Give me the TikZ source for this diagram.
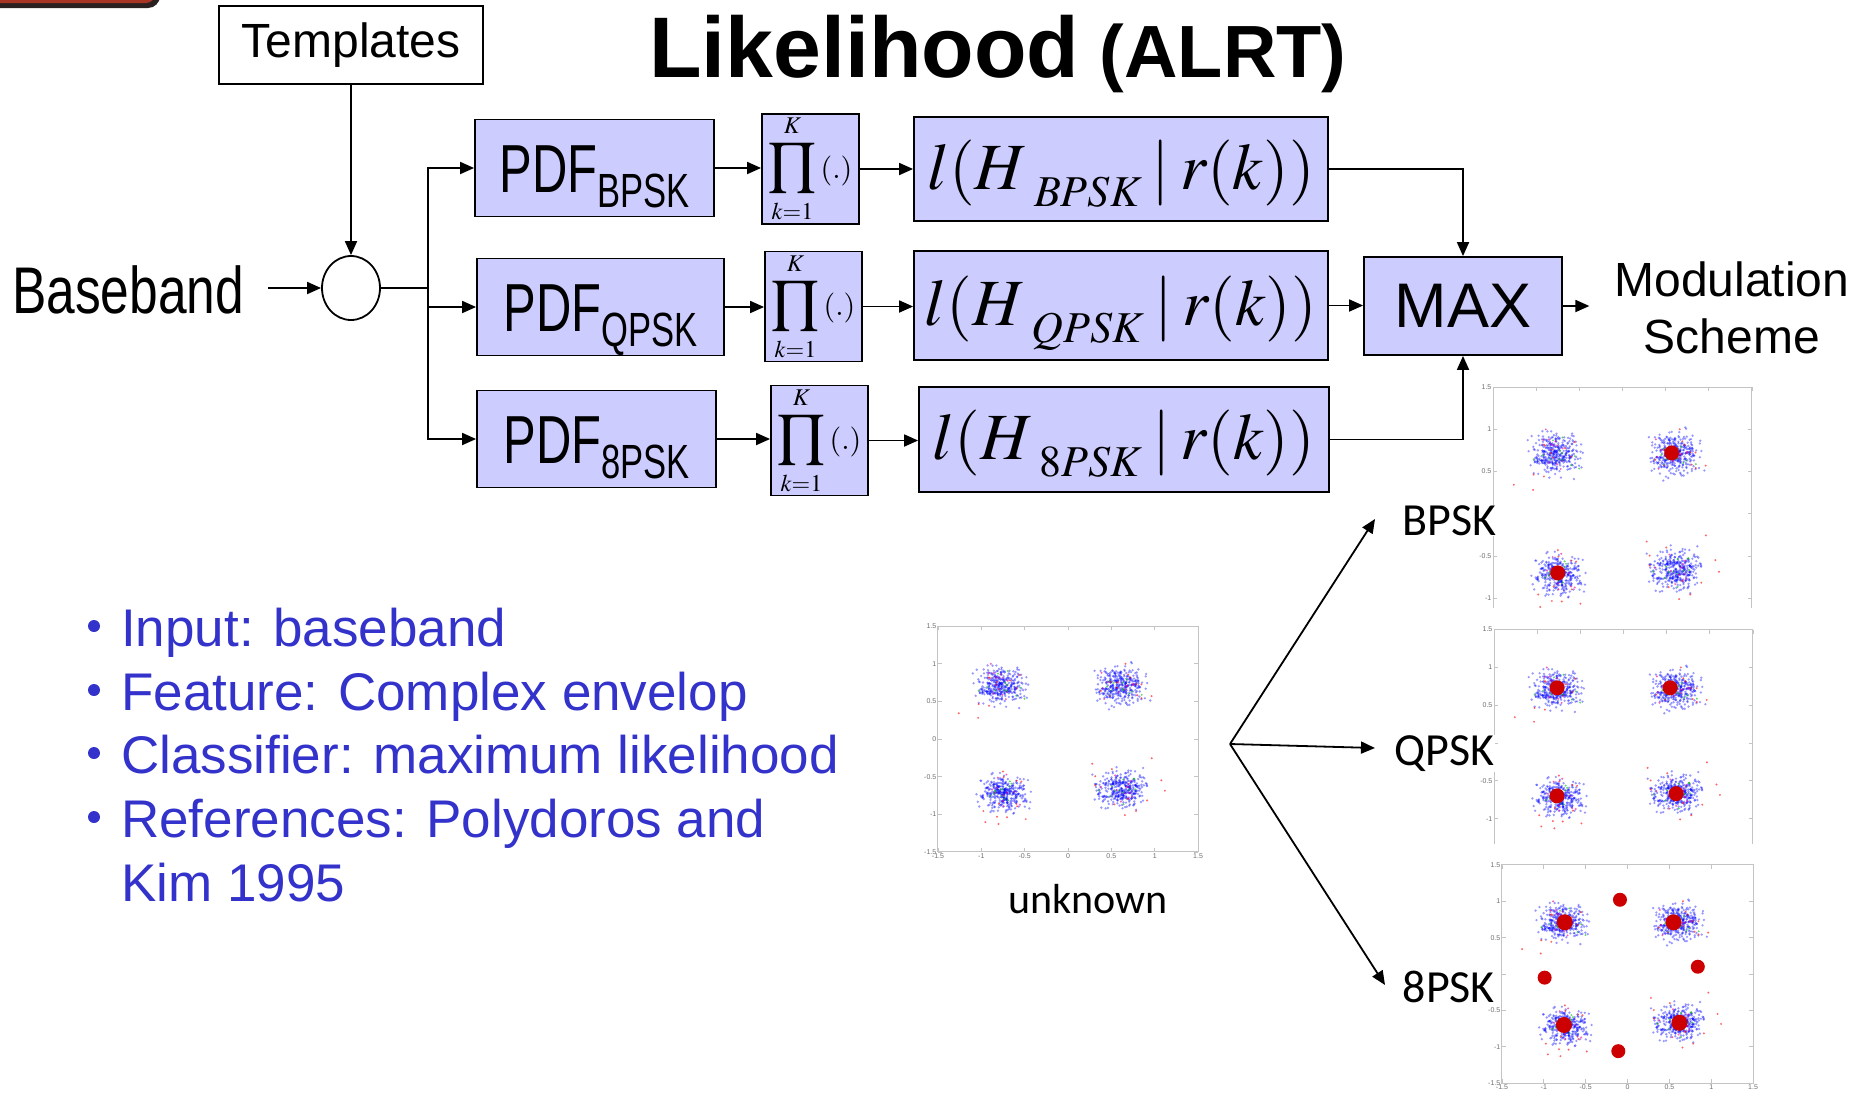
\documentclass[tikz,border=0pt]{standalone}
\usepackage{mathptmx}
\usepackage[no-math]{fontspec}
\setmainfont{Liberation Sans}
\newfontfamily\narrowfont[FakeStretch=0.72]{Liberation Sans}
\newfontfamily\bandfont[FakeStretch=0.78]{Liberation Sans}
\newfontfamily\labelfont{Carlito}
\usetikzlibrary{arrows.meta,shapes.geometric}

\definecolor{boxfill}{RGB}{204,204,255}
\definecolor{bullblue}{RGB}{51,51,204}
\definecolor{dotred}{RGB}{204,0,0}
\definecolor{axisgray}{RGB}{196,196,196}
\definecolor{tickgray}{RGB}{110,110,110}
\definecolor{tabred}{RGB}{168,52,36}
\definecolor{tabdark}{RGB}{42,32,32}

% likelihood expression l(H_x | r(k)) with a lowered, spaced subscript
\newcommand{\likexpr}[1]{$l(H\kern7pt\raisebox{-17pt}{\fontsize{44}{44}\selectfont$#1$}\kern10pt|\kern10pt r(k))$}
% product over the K received samples
\newcommand{\prodexpr}{$\displaystyle\prod\limits_{\raisebox{-3pt}{$\scriptscriptstyle k=1$}}^{\raisebox{2pt}{$\scriptscriptstyle K$}}\mbox{\fontsize{30}{30}\selectfont$(.)$}$}

% the same received samples, scattered round the four QPSK points
\newcommand{\clusterpts}{%
  \pgfmathsetseed{4242}%
  \foreach \cx/\cy in {-0.78/0.70,0.60/0.70,-0.75/-0.72,0.62/-0.66}{%
    \foreach \i in {1,...,340}{%
      \pgfmathsetmacro\ptx{\cx+0.13*(rand+rand+rand)}%
      \pgfmathsetmacro\pty{\cy+0.115*(rand+rand+rand)}%
      \fill[ptblue] (\ptx,\pty) circle[radius=1.3pt];%
    }%
    \foreach \i in {1,...,24}{%
      \pgfmathsetmacro\ptx{\cx+0.12*(rand+rand+rand)}%
      \pgfmathsetmacro\pty{\cy+0.11*(rand+rand+rand)}%
      \ifodd\i \fill[ptgreen] (\ptx,\pty) circle[radius=1.1pt];%
      \else \fill[ptmag] (\ptx,\pty) circle[radius=1.1pt];\fi
    }%
    \foreach \i in {1,...,12}{%
      \pgfmathsetmacro\ptx{\cx+0.24*(rand+rand+rand)}%
      \pgfmathsetmacro\pty{\cy+0.22*(rand+rand+rand)}%
      \fill[ptred] (\ptx,\pty) circle[radius=1.1pt];%
    }%
  }}

% #1 id, #2/#3 origin (px), #4/#5 px per unit, #6 lower cut (px),
% #7 extra marks, #8 index of a left label hidden under a caption
\newcommand{\constplot}[8]{%
  \begin{scope}
    \clip (#2-1.5*#4-30,#3-1.5*#5-10) rectangle (#2+1.5*#4+6,#6);
    \begin{scope}[shift={(#2,#3)},x=#4pt,y=#5pt]
      \clusterpts
      \draw[axisgray,line width=1pt] (-1.5,-1.5) rectangle (1.5,1.5);
      \foreach \v [count=\k] in {-1.5,-1,-0.5,0,0.5,1,1.5}{%
        \draw[axisgray,line width=0.8pt]
          (\v,-1.5) -- ++(0,4pt) (\v,1.5) -- ++(0,-4pt)
          (-1.5,\v) -- ++(4pt,0) (1.5,\v) -- ++(-4pt,0);
        \ifnum\k=#8\relax\else
          \node[ticklbl,anchor=east] (#1y\k) at (-1.5,\v) {\v};
        \fi
        \node[ticklbl,anchor=north] (#1x\k) at (\v,-1.5) {\v};
      }
      #7
    \end{scope}
  \end{scope}}

\begin{document}
\begin{tikzpicture}[x=1pt,y=-1pt,
  ln/.style={line width=1.8pt},
  arr/.style={line width=1.8pt,-{Triangle[length=14pt,width=12pt]}},
  blk/.style={draw,line width=1.8pt,fill=boxfill,inner sep=0pt},
  pdfblk/.style={blk,minimum height=97,text height=49,text depth=0pt,
    font=\narrowfont\fontsize{68}{70}\selectfont},
  prodblk/.style={blk,minimum width=97,font=\fontsize{40}{44}\selectfont},
  likblk/.style={blk,text height=40,text depth=0pt,font=\fontsize{66}{70}\selectfont},
  bul/.style={text=bullblue,font=\fontsize{53}{64}\selectfont,inner sep=0pt,anchor=base west},
  schlbl/.style={font=\labelfont\fontsize{46}{50}\selectfont,inner sep=0.5pt,fill=white,anchor=base west},
  ticklbl/.style={font=\fontsize{7}{8}\selectfont,text=tickgray,inner sep=1.5pt},
  ptblue/.style={fill=blue,fill opacity=0.4},
  ptgreen/.style={fill=green!75!black,fill opacity=0.6},
  ptmag/.style={fill=magenta,fill opacity=0.6},
  ptred/.style={fill=red,fill opacity=0.6},
  dot/.style={fill=dotred}]
\useasboundingbox (0,0) rectangle (1856,1093);

% corner of the slide tab
\fill[tabdark,rounded corners=12pt] (-30,-40) rectangle (160,8);
\fill[tabred,rounded corners=9pt] (-30,-40) rectangle (155,3);

% title
\node[anchor=base west,inner sep=0pt] (title) at (649,77)
  {\bfseries\fontsize{86}{90}\selectfont Likelihood\fontsize{74}{80}\selectfont\ (ALRT)};

% input side
\node[draw,line width=1.8pt,minimum width=264,minimum height=78,inner sep=0pt,
  font=\fontsize{48}{50}\selectfont] (tmpl) at (351,45) {Templates};
\node[anchor=base west,inner sep=0pt,font=\bandfont\fontsize{66}{70}\selectfont] (bb) at (12,313) {Baseband};
\node[ellipse,draw,line width=1.8pt,minimum width=58,minimum height=64,inner sep=0pt] (circ) at (351,288) {};
\coordinate (split) at (428,288);

% three hypothesis branches
\node[pdfblk,minimum width=239] (pdf1) at (594.5,168) {PDF\raisebox{-15pt}{\fontsize{48}{50}\selectfont BPSK}};
\node[pdfblk,minimum width=247] (pdf2) at (600.5,307) {PDF\raisebox{-15pt}{\fontsize{48}{50}\selectfont QPSK}};
\node[pdfblk,minimum width=239] (pdf3) at (596.5,439) {PDF\raisebox{-15pt}{\fontsize{48}{50}\selectfont 8PSK}};

\node[prodblk,minimum height=108] (prod1) at (810.5,169) {\prodexpr};
\node[prodblk,minimum height=107] (prod2) at (813.5,306.5) {\prodexpr};
\node[prodblk,minimum height=107] (prod3) at (819.5,440.5) {\prodexpr};

\node[likblk,minimum width=414,minimum height=104] (lik1) at (1121,169) {\likexpr{BPSK}};
\node[likblk,minimum width=414,minimum height=109] (lik2) at (1121,305.5) {\likexpr{QPSK}};
\node[likblk,minimum width=410,minimum height=105] (lik3) at (1124,439.5) {\likexpr{8PSK}};

\node[blk,minimum width=198,minimum height=98,font=\fontsize{63}{66}\selectfont] (max) at (1463,306) {MAX};
\node[align=center,inner sep=0pt,font=\fontsize{48}{57}\selectfont] (modsch) at (1732,308) {Modulation\\Scheme};

% connectors of the block diagram
\draw[arr] (tmpl.south) -- (circ.north);
\draw[arr,shorten <=24pt] (bb.east |- circ.west) -- (circ.west);
\draw[ln] (circ.east) -- (split);
\draw[arr] (split) |- (pdf1.west);
\draw[arr] (split) |- (pdf2.west);
\draw[arr] (split) |- (pdf3.west);
\draw[arr] (pdf1.east) -- (pdf1.east -| prod1.west);
\draw[arr] (pdf2.east) -- (pdf2.east -| prod2.west);
\draw[arr] (pdf3.east) -- (pdf3.east -| prod3.west);
\draw[arr] (prod1.east) -- (prod1.east -| lik1.west);
\draw[arr] (prod2.east) -- (prod2.east -| lik2.west);
\draw[arr] (prod3.east) -- (prod3.east -| lik3.west);
\draw[arr] (lik1.east) -| (max.north);
\draw[arr] (lik2.east) -- (lik2.east -| max.west);
\draw[arr] (lik3.east) -| (max.south);
\draw[arr,shorten >=25pt] (max.east) -- (max.east -| modsch.west);

% bullet list
\foreach \by in {626,690,753,817} \fill[bullblue] (94,\by) circle[radius=6];
\node[bul] (b1) at (121,646) {Input: baseband};
\node[bul] (b2) at (121,710) {Feature: Complex envelop};
\node[bul] (b3) at (121,773) {Classifier: maximum likelihood};
\node[bul] (b4) at (121,837) {References: Polydoros and};
\node[bul] (b5) at (121,901) {Kim 1995};

% constellation plots
\constplot{un}{1068}{739}{86.7}{75.3}{880}{}{0}
\constplot{bp}{1622.5}{513.75}{86.3}{84.5}{607}{%
  \fill[dot] (0.57,0.72) circle[radius=7.5pt];
  \fill[dot] (-0.75,-0.70) circle[radius=7.5pt];}{4}
\constplot{qp}{1623.5}{743}{86.3}{75.6}{843}{%
  \foreach \dx/\dy in {-0.77/0.73,0.54/0.73,-0.77/-0.70,0.61/-0.67}
    \fill[dot] (\dx,\dy) circle[radius=7.5pt];}{4}
\constplot{ep}{1627.5}{974}{83.7}{72.8}{1093}{%
  \foreach \dx/\dy in {-0.75/0.71,0.55/0.71,-0.76/-0.70,0.62/-0.67}
    \fill[dot] (\dx,\dy) circle[radius=8pt];
  \foreach \dx/\dy in {-0.09/1.02,0.84/0.10,-0.99/-0.05,-0.11/-1.06}
    \fill[dot] (\dx,\dy) circle[radius=7pt];}{4}

\node[anchor=base,inner sep=0pt,font=\labelfont\fontsize{42}{46}\selectfont] (unk) at (1088,913) {unknown};

% classification arrows
\coordinate (fork) at (1230,744);
\coordinate (tipB) at (1375,519);
\coordinate (tipQ) at (1375,748);
\coordinate (tipE) at (1385,985);
\draw[arr] (fork) -- (tipB);
\draw[arr] (fork) -- (tipQ);
\draw[arr] (fork) -- (tipE);
\node[schlbl] (lb) at (1402,535) {BPSK};
\node[schlbl] (lq) at (1394,765) {QPSK};
\node[schlbl] (le) at (1402,1002) {8PSK};
\end{tikzpicture}
\end{document}
